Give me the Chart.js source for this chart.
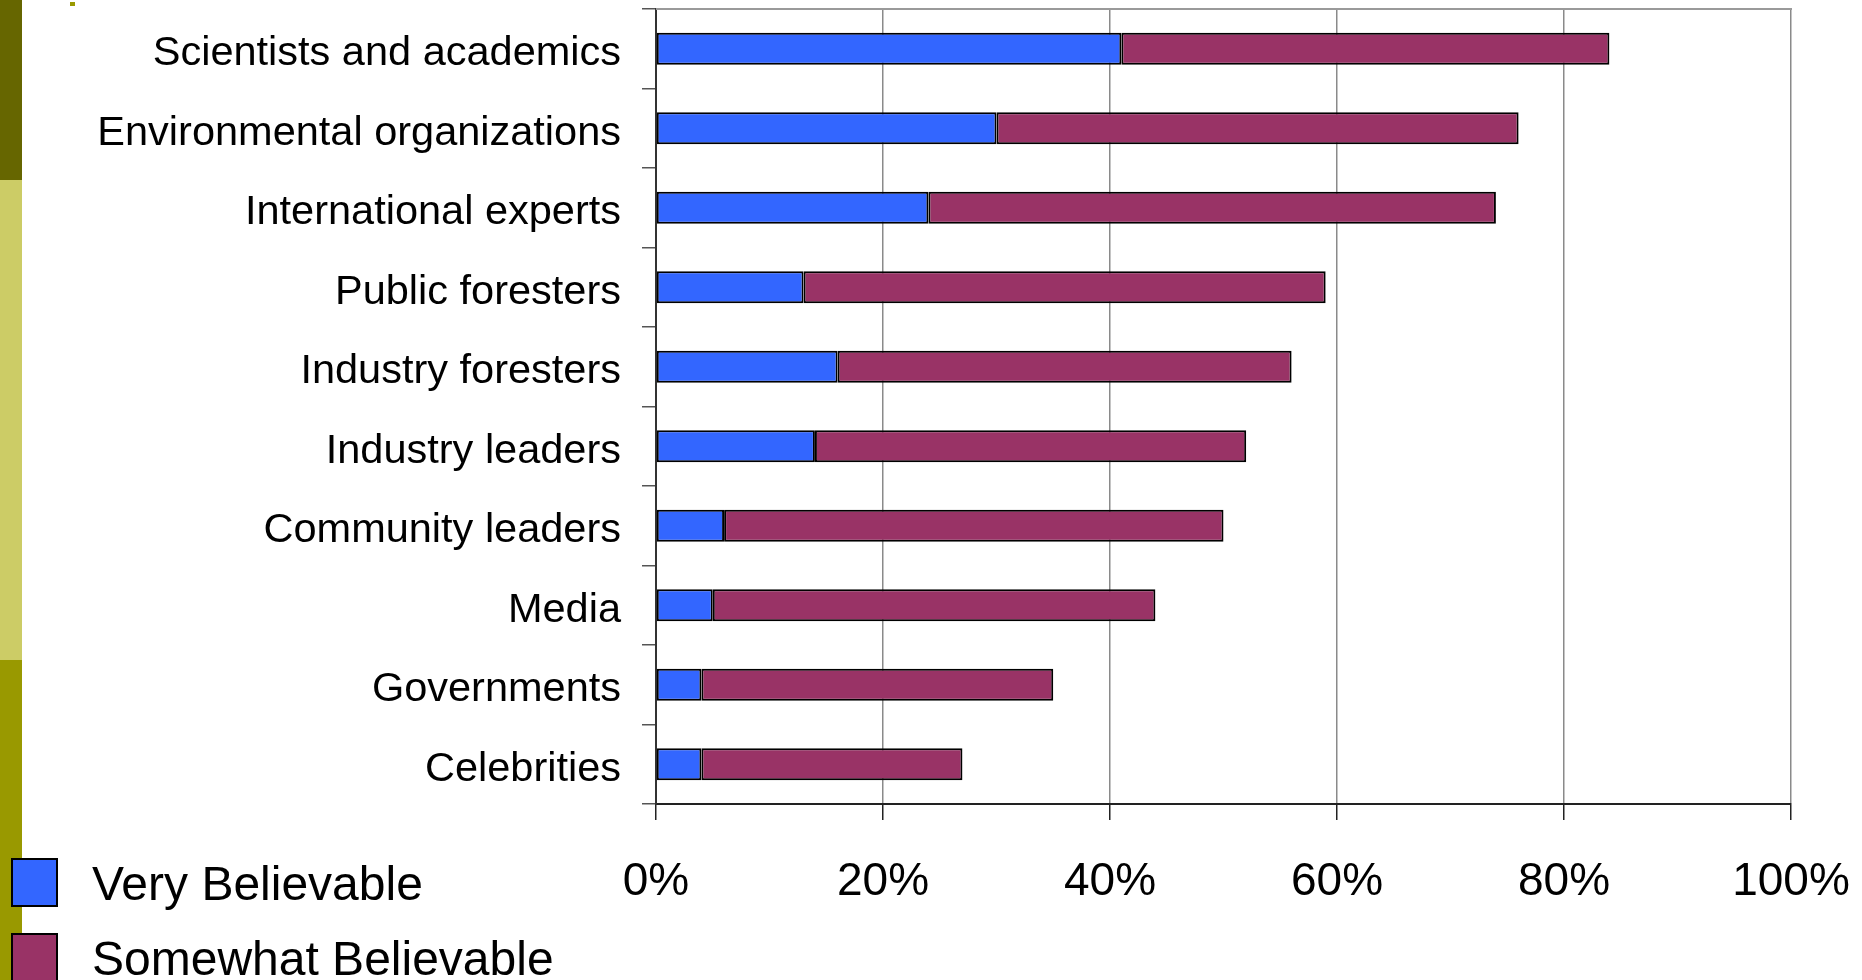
<!DOCTYPE html>
<html>
<head>
<meta charset="utf-8">
<title>Believability of information sources</title>
<script src="https://cdn.jsdelivr.net/npm/chart.js@4.4.1/dist/chart.umd.min.js"></script>
<style>
  html, body { margin: 0; padding: 0; background: #ffffff; }
  #wrap { position: relative; width: 1862px; height: 980px; overflow: hidden; }
  .band { position: absolute; left: 0; width: 22px; }
  #dot { position: absolute; left: 70px; top: 2px; width: 5px; height: 4px; background: #999900; }
  canvas { position: absolute; left: 0; top: 0; }
</style>
</head>
<body>
<div id="wrap">
  <div class="band" style="top:0;height:180px;background:#666600;"></div>
  <div class="band" style="top:180px;height:480px;background:#CCCC66;"></div>
  <div class="band" style="top:660px;height:320px;background:#999900;"></div>
  <div id="dot"></div>
  <canvas id="chart" width="1862" height="980"></canvas>
</div>
<script>
// Sources of information, top to bottom
const categories = [
  'Scientists and academics',
  'Environmental organizations',
  'International experts',
  'Public foresters',
  'Industry foresters',
  'Industry leaders',
  'Community leaders',
  'Media',
  'Governments',
  'Celebrities'
];

// Share of respondents (%) per source
const veryBelievable     = [41, 30, 24, 13, 16, 14, 6, 5, 4, 4];
const somewhatBelievable = [43, 46, 50, 46, 40, 38, 44, 39, 31, 23];

const seriesNames = ['Very Believable', 'Somewhat Believable'];
const xTickValues = [0, 20, 40, 60, 80, 100];

const FONT = "'Liberation Sans', Arial, sans-serif";

// Frame line along the top of the plot area
const topFrame = {
  id: 'topFrame',
  afterDraw(chart) {
    const { ctx, chartArea } = chart;
    ctx.save();
    ctx.strokeStyle = '#9a9a9a';
    ctx.lineWidth = 2;
    ctx.beginPath();
    ctx.moveTo(chartArea.left, chartArea.top);
    ctx.lineTo(chartArea.right + 1, chartArea.top);
    ctx.stroke();
    ctx.restore();
  }
};

// Stacked legend in the lower-left corner
const cornerLegend = {
  id: 'cornerLegend',
  afterDraw(chart) {
    const { ctx } = chart;
    ctx.save();
    ctx.font = '48px ' + FONT;
    ctx.textBaseline = 'middle';
    ctx.textAlign = 'left';
    chart.data.datasets.forEach((ds, i) => {
      const boxTop = 859 + i * 75;
      ctx.fillStyle = ds.backgroundColor;
      ctx.fillRect(12, boxTop, 45, 47);
      ctx.strokeStyle = '#000000';
      ctx.lineWidth = 2;
      ctx.strokeRect(12, boxTop, 45, 47);
      ctx.fillStyle = '#000000';
      ctx.fillText(ds.label, 92, boxTop + 28);
    });
    ctx.restore();
  }
};

new Chart(document.getElementById('chart'), {
  type: 'bar',
  data: {
    labels: categories,
    datasets: [
      {
        label: seriesNames[0],
        data: veryBelievable,
        backgroundColor: '#3366FF',
        borderColor: '#000000',
        borderWidth: 2,
        borderSkipped: false
      },
      {
        label: seriesNames[1],
        data: somewhatBelievable,
        backgroundColor: '#993366',
        borderColor: '#000000',
        borderWidth: 2,
        borderSkipped: false
      }
    ]
  },
  options: {
    indexAxis: 'y',
    responsive: false,
    animation: false,
    devicePixelRatio: 1,
    layout: { padding: { top: 9, right: 71, left: 0, bottom: 0 } },
    datasets: { bar: { categoryPercentage: 1.0, barPercentage: 0.4 } },
    plugins: {
      legend: { display: false },
      tooltip: { enabled: false }
    },
    scales: {
      x: {
        stacked: true,
        min: 0,
        max: 100,
        afterFit(scale) {
          scale.height = 176;
          scale.paddingLeft = 0;
          scale.paddingRight = 0;
        },
        afterBuildTicks(scale) { scale.ticks = xTickValues.map(v => ({ value: v })); },
        ticks: {
          callback: v => v + '%',
          color: '#000000',
          font: { family: FONT, size: 46 },
          padding: 35,
          maxRotation: 0
        },
        grid: {
          color: '#8a8a8a',
          lineWidth: 1.5,
          tickLength: 16,
          tickColor: '#222222',
          drawTicks: true
        },
        border: { display: true, color: '#222222', width: 2 }
      },
      y: {
        stacked: true,
        afterFit(scale) {
          scale.width = 656;
          scale.paddingTop = 0;
          scale.paddingBottom = 0;
        },
        ticks: {
          color: '#000000',
          font: { family: FONT, size: 41.5 },
          padding: 21,
          labelOffset: 5,
          autoSkip: false
        },
        grid: {
          drawOnChartArea: false,
          drawTicks: true,
          tickLength: 14,
          tickColor: '#555555',
          lineWidth: 1.5
        },
        border: { display: true, color: '#333333', width: 2 }
      }
    }
  },
  plugins: [topFrame, cornerLegend]
});
</script>
</body>
</html>
